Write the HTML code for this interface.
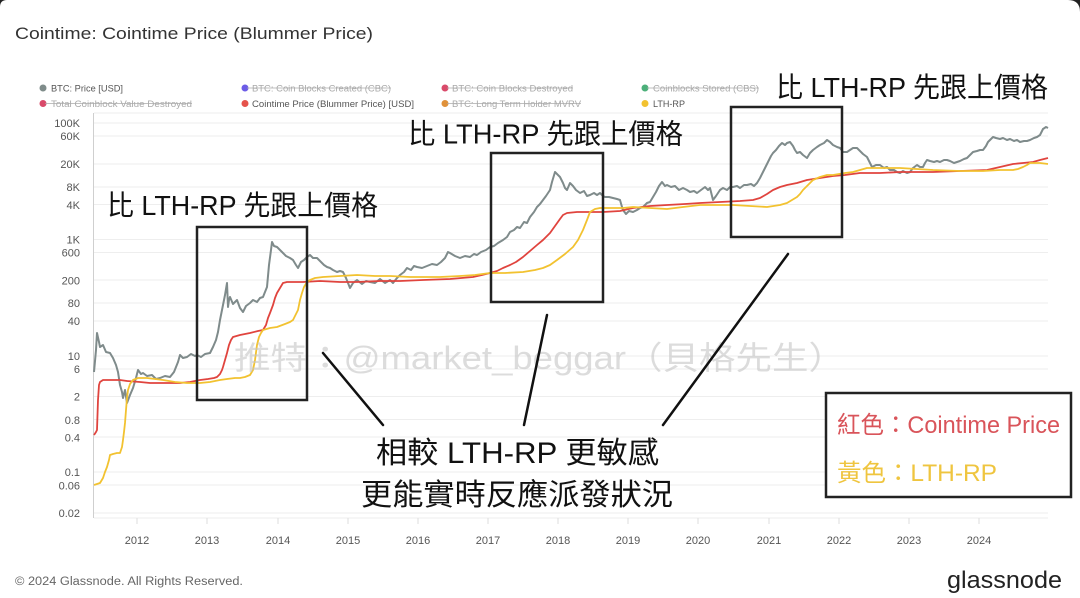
<!DOCTYPE html>
<html>
<head>
<meta charset="utf-8">
<style>
html,body{margin:0;padding:0;background:#fff;}
svg{display:block;}
.lat{font-family:"Liberation Sans",sans-serif;}
.cjk{font-family:"Liberation Sans","Noto Sans CJK TC",sans-serif;}
</style>
</head>
<body>
<svg width="1080" height="598" viewBox="0 0 1080 598" xmlns="http://www.w3.org/2000/svg">
<rect x="0" y="0" width="1080" height="598" fill="#fff"/>
<path d="M0 0 H7 Q0 0 0 7 Z" fill="#222"/>
<path d="M1080 0 H1068 Q1080 0 1080 12 Z" fill="#222"/>

<!-- title -->
<text class="lat" x="15" y="39" font-size="17" fill="#333" textLength="358" lengthAdjust="spacingAndGlyphs">Cointime: Cointime Price (Blummer Price)</text>

<!-- legend -->
<g class="lat" font-size="9.5">
<circle cx="43" cy="88" r="3.5" fill="#7f8c8a"/>
<text x="51" y="91.5" fill="#555" textLength="72" lengthAdjust="spacingAndGlyphs">BTC: Price [USD]</text>
<circle cx="245" cy="88" r="3.5" fill="#6c5ce7"/>
<text x="252" y="91.5" fill="#aaa" textLength="139" lengthAdjust="spacingAndGlyphs">BTC: Coin Blocks Created (CBC)</text>
<line x1="247" y1="88" x2="391" y2="88" stroke="#aaa" stroke-width="0.8"/>
<circle cx="445" cy="88" r="3.5" fill="#d94a6a"/>
<text x="452" y="91.5" fill="#aaa" textLength="121" lengthAdjust="spacingAndGlyphs">BTC: Coin Blocks Destroyed</text>
<line x1="447" y1="88" x2="573" y2="88" stroke="#aaa" stroke-width="0.8"/>
<circle cx="645" cy="88" r="3.5" fill="#4cb07a"/>
<text x="653" y="91.5" fill="#aaa" textLength="106" lengthAdjust="spacingAndGlyphs">Coinblocks Stored (CBS)</text>
<line x1="647" y1="88" x2="759" y2="88" stroke="#aaa" stroke-width="0.8"/>

<circle cx="43" cy="103.5" r="3.5" fill="#d94a6a"/>
<text x="51" y="107" fill="#aaa" textLength="141" lengthAdjust="spacingAndGlyphs">Total Coinblock Value Destroyed</text>
<line x1="45" y1="103.5" x2="192" y2="103.5" stroke="#aaa" stroke-width="0.8"/>
<circle cx="245" cy="103.5" r="3.5" fill="#e5534b"/>
<text x="252" y="107" fill="#555" textLength="162" lengthAdjust="spacingAndGlyphs">Cointime Price (Blummer Price) [USD]</text>
<circle cx="445" cy="103.5" r="3.5" fill="#e0913a"/>
<text x="452" y="107" fill="#aaa" textLength="129" lengthAdjust="spacingAndGlyphs">BTC: Long Term Holder MVRV</text>
<line x1="447" y1="103.5" x2="581" y2="103.5" stroke="#aaa" stroke-width="0.8"/>
<circle cx="645" cy="103.5" r="3.5" fill="#f2c230"/>
<text x="653" y="107" fill="#555" textLength="32" lengthAdjust="spacingAndGlyphs">LTH-RP</text>
</g>

<!-- gridlines -->
<g stroke="#eeeeee" stroke-width="1">
<line x1="94" y1="113" x2="1048" y2="113"/>
<line x1="94" y1="123" x2="1048" y2="123"/>
<line x1="94" y1="136" x2="1048" y2="136"/>
<line x1="94" y1="164" x2="1048" y2="164"/>
<line x1="94" y1="187" x2="1048" y2="187"/>
<line x1="94" y1="204.5" x2="1048" y2="204.5"/>
<line x1="94" y1="239.5" x2="1048" y2="239.5"/>
<line x1="94" y1="252.5" x2="1048" y2="252.5"/>
<line x1="94" y1="280" x2="1048" y2="280"/>
<line x1="94" y1="303" x2="1048" y2="303"/>
<line x1="94" y1="321" x2="1048" y2="321"/>
<line x1="94" y1="356" x2="1048" y2="356"/>
<line x1="94" y1="369" x2="1048" y2="369"/>
<line x1="94" y1="396.5" x2="1048" y2="396.5"/>
<line x1="94" y1="419.5" x2="1048" y2="419.5"/>
<line x1="94" y1="437" x2="1048" y2="437"/>
<line x1="94" y1="472" x2="1048" y2="472"/>
<line x1="94" y1="485" x2="1048" y2="485"/>
<line x1="94" y1="513" x2="1048" y2="513"/>
<line x1="94" y1="518" x2="1048" y2="518"/>
</g>
<line x1="93.5" y1="113" x2="93.5" y2="518" stroke="#cfcfcf" stroke-width="1"/>

<!-- y labels -->
<g class="lat" font-size="11" fill="#555" text-anchor="end">
<text x="80" y="127">100K</text>
<text x="80" y="140">60K</text>
<text x="80" y="168">20K</text>
<text x="80" y="191">8K</text>
<text x="80" y="209">4K</text>
<text x="80" y="243.5">1K</text>
<text x="80" y="256.5">600</text>
<text x="80" y="284.5">200</text>
<text x="80" y="307">80</text>
<text x="80" y="325">40</text>
<text x="80" y="360">10</text>
<text x="80" y="373">6</text>
<text x="80" y="400.5">2</text>
<text x="80" y="424">0.8</text>
<text x="80" y="441.5">0.4</text>
<text x="80" y="476">0.1</text>
<text x="80" y="489.5">0.06</text>
<text x="80" y="517">0.02</text>
</g>

<!-- x ticks + labels -->
<g stroke="#ddd" stroke-width="1">
<line x1="137" y1="518" x2="137" y2="524"/><line x1="207" y1="518" x2="207" y2="524"/>
<line x1="278" y1="518" x2="278" y2="524"/><line x1="348" y1="518" x2="348" y2="524"/>
<line x1="418" y1="518" x2="418" y2="524"/><line x1="488" y1="518" x2="488" y2="524"/>
<line x1="558" y1="518" x2="558" y2="524"/><line x1="628" y1="518" x2="628" y2="524"/>
<line x1="698" y1="518" x2="698" y2="524"/><line x1="769" y1="518" x2="769" y2="524"/>
<line x1="839" y1="518" x2="839" y2="524"/><line x1="909" y1="518" x2="909" y2="524"/>
<line x1="979" y1="518" x2="979" y2="524"/>
</g>
<g class="lat" font-size="11" fill="#555" text-anchor="middle">
<text x="137" y="544">2012</text><text x="207" y="544">2013</text><text x="278" y="544">2014</text>
<text x="348" y="544">2015</text><text x="418" y="544">2016</text><text x="488" y="544">2017</text>
<text x="558" y="544">2018</text><text x="628" y="544">2019</text><text x="698" y="544">2020</text>
<text x="769" y="544">2021</text><text x="839" y="544">2022</text><text x="909" y="544">2023</text>
<text x="979" y="544">2024</text>
</g>

<!-- BTC price -->
<polyline fill="none" stroke="#7f8b8b" stroke-width="2" stroke-linejoin="round" points="94,372 96,350 97,333 99,342 100,347 103,345 106,352 110,353 113,358 116,365 118,372 120,385 122,392 123,398 125,390 127,403 130,395 133,388 136,378 138,370 141,374 143,373 147,376 152,375 156,379 160,378 165,376 170,377 174,372 178,362 180,355 183,358 187,357 191,354 195,356 197,355 201,357 205,354 210,353 213,347 216,340 218,332 220,320 223,305 225,295 227,283 228,307 229,300 230,297 233,304 237,300 240,308 243,312 246,306 250,303 253,300 257,302 260,298 263,297 265,292 267,287 269,265 271,250 272,242 274,246 277,247 280,250 283,253 286,256 290,258 293,260 296,265 298,268 301,262 304,260 307,257 310,255 313,258 317,258 320,261 324,265 327,267 330,268 333,270 337,272 340,271 343,272 346,278 350,288 353,283 357,280 362,284 366,281 370,282 375,283 380,279 385,283 390,280 393,283 397,278 400,275 404,272 407,268 411,270 414,266 417,267 422,268 427,266 432,264 437,265 441,262 445,258 448,252 450,253 455,256 460,258 465,256 470,257 474,254 477,255 481,252 486,250 490,247 494,246 498,243 503,240 507,237 510,232 514,230 517,227 520,228 524,222 527,223 530,217 534,212 537,207 540,204 543,200 546,196 548,193 550,190 552,182 555,172 558,175 560,177 563,183 565,188 567,190 570,183 573,186 576,190 580,193 584,191 587,196 590,195 594,193 597,195 600,193 603,196 605,197 609,197 613,198 617,199 620,200 622,207 623,210 626,214 629,211 633,212 637,210 640,208 643,207 647,203 650,202 653,197 656,192 659,186 662,182 665,186 667,185 671,187 675,186 679,190 683,188 687,190 690,192 694,191 697,193 701,190 705,187 708,190 710,188 713,200 716,196 720,190 723,188 727,190 730,187 733,187 737,186 740,188 744,185 747,185 751,184 754,186 757,183 760,178 763,172 766,166 769,160 771,156 773,153 776,150 779,146 782,143 785,145 787,143 790,142 793,146 795,150 797,153 800,152 803,155 807,158 810,153 813,150 817,147 820,145 824,143 827,140 830,142 833,145 837,147 840,148 843,152 847,152 850,150 853,148 857,148 860,151 863,154 867,157 870,163 872,167 876,165 880,165 884,168 887,167 890,170 894,170 897,172 900,173 903,171 907,173 910,172 913,168 917,165 920,167 923,167 925,163 927,160 930,161 934,162 937,161 940,162 944,160 947,160 950,161 954,163 957,162 960,161 964,159 967,158 970,155 973,152 977,151 980,150 983,150 986,146 988,142 990,140 993,137 996,138 1000,139 1003,138 1007,140 1010,139 1014,141 1017,140 1020,142 1024,141 1027,141 1030,140 1034,138 1037,137 1040,135 1042,131 1043,129 1046,127 1048,128"/>

<!-- Cointime price (red) -->
<polyline fill="none" stroke="#e0443e" stroke-width="1.8" stroke-linejoin="round" points="94,435 96,432 97,430 98,400 99,385 100,382 103,380 110,380 120,380 127,381 140,382 150,383 165,383 180,383 190,382 200,380 208,379 214,378 217,377 220,374 222,370 223,367 225,360 227,353 229,345 231,340 233,337 240,335 250,333 258,331 263,330 266,325 268,318 270,313 273,305 275,298 277,293 280,288 283,283 287,282 290,282 303,282 320,281 340,282 357,282 380,281 400,281 423,280 450,279 473,277 482,275 490,273 497,271 503,268 510,265 516,262 523,257 530,251 537,245 543,240 550,233 555,226 560,219 563,215 567,213 577,212 590,212 603,212 620,211 633,208 650,206 667,205 685,204 700,203 720,202 740,201 753,200 760,198 767,194 773,190 780,187 787,185 797,183 807,180 820,178 833,176 845,175 860,173 880,173 900,172 933,172 960,171 987,170 1000,167 1013,164 1023,163 1033,162 1040,160 1048,158"/>

<!-- LTH-RP (yellow) -->
<polyline fill="none" stroke="#f2c230" stroke-width="1.8" stroke-linejoin="round" points="94,485 97,484 100,483 103,478 105,472 107,467 109,460 110,455 113,454 117,453 120,453 122,447 123,440 124,432 125,423 126,410 127,398 128,390 130,384 133,380 138,378 147,378 155,379 163,380 175,382 187,383 200,383 210,382 220,380 227,379 235,378 240,378 245,377 250,375 253,370 255,360 257,345 259,337 261,333 263,330 270,328 277,327 285,324 290,322 293,320 296,314 298,310 300,300 302,293 304,287 307,282 310,280 315,278 323,277 340,276 357,275 375,276 390,276 410,277 425,277 440,277 460,276 475,275 490,273 505,273 523,272 535,270 543,268 550,265 557,260 565,254 573,247 578,240 583,230 587,220 590,212 595,209 600,208 612,208 623,208 633,207 650,208 667,209 683,207 700,205 733,205 750,206 767,207 780,205 787,203 792,200 797,197 800,194 803,190 808,185 813,180 820,177 827,175 833,175 845,173 853,172 860,170 867,168 900,168 933,170 960,171 983,171 1000,170 1013,170 1018,169 1023,167 1027,165 1030,163 1040,163 1048,164"/>

<!-- watermark -->
<text class="cjk" x="234" y="369" font-size="32" fill="#c4c4c4" fill-opacity="0.6" textLength="611" lengthAdjust="spacingAndGlyphs">推特：@market_beggar（貝格先生）</text>

<!-- boxes -->
<g fill="none" stroke="#222" stroke-width="2.5">
<rect x="197" y="227" width="110" height="173"/>
<rect x="491" y="153" width="112" height="149"/>
<rect x="731" y="107" width="111" height="130"/>
</g>

<!-- pointer lines -->
<g stroke="#111" stroke-width="2.5" stroke-linecap="round">
<line x1="323" y1="353" x2="383" y2="425"/>
<line x1="547" y1="315" x2="524" y2="425"/>
<line x1="788" y1="254" x2="663" y2="425"/>
</g>

<!-- annotations -->
<g class="cjk" fill="#111" font-size="28">
<text x="107" y="215" textLength="271" lengthAdjust="spacingAndGlyphs">比 LTH-RP 先跟上價格</text>
<text x="408" y="143.5" textLength="275" lengthAdjust="spacingAndGlyphs">比 LTH-RP 先跟上價格</text>
<text x="776" y="97" textLength="272" lengthAdjust="spacingAndGlyphs">比 LTH-RP 先跟上價格</text>
</g>
<g class="cjk" fill="#111" font-size="30">
<text x="376" y="463" textLength="283" lengthAdjust="spacingAndGlyphs">相較 LTH-RP 更敏感</text>
<text x="361" y="505" textLength="312" lengthAdjust="spacingAndGlyphs">更能實時反應派發狀況</text>
</g>

<!-- color legend box -->
<rect x="826" y="393" width="245" height="104" fill="#fff" stroke="#222" stroke-width="2.5"/>
<text class="cjk" x="837" y="433" font-size="24" fill="#d9545a" textLength="223" lengthAdjust="spacingAndGlyphs">紅色：Cointime Price</text>
<text class="cjk" x="837" y="481" font-size="24" fill="#efc53f" textLength="160" lengthAdjust="spacingAndGlyphs">黃色：LTH-RP</text>

<!-- footer -->
<text class="lat" x="15" y="585" font-size="11.5" fill="#666" textLength="228" lengthAdjust="spacingAndGlyphs">© 2024 Glassnode. All Rights Reserved.</text>
<text class="lat" x="947" y="588" font-size="24" fill="#222" textLength="115" lengthAdjust="spacingAndGlyphs">glassnode</text>
</svg>
</body>
</html>
